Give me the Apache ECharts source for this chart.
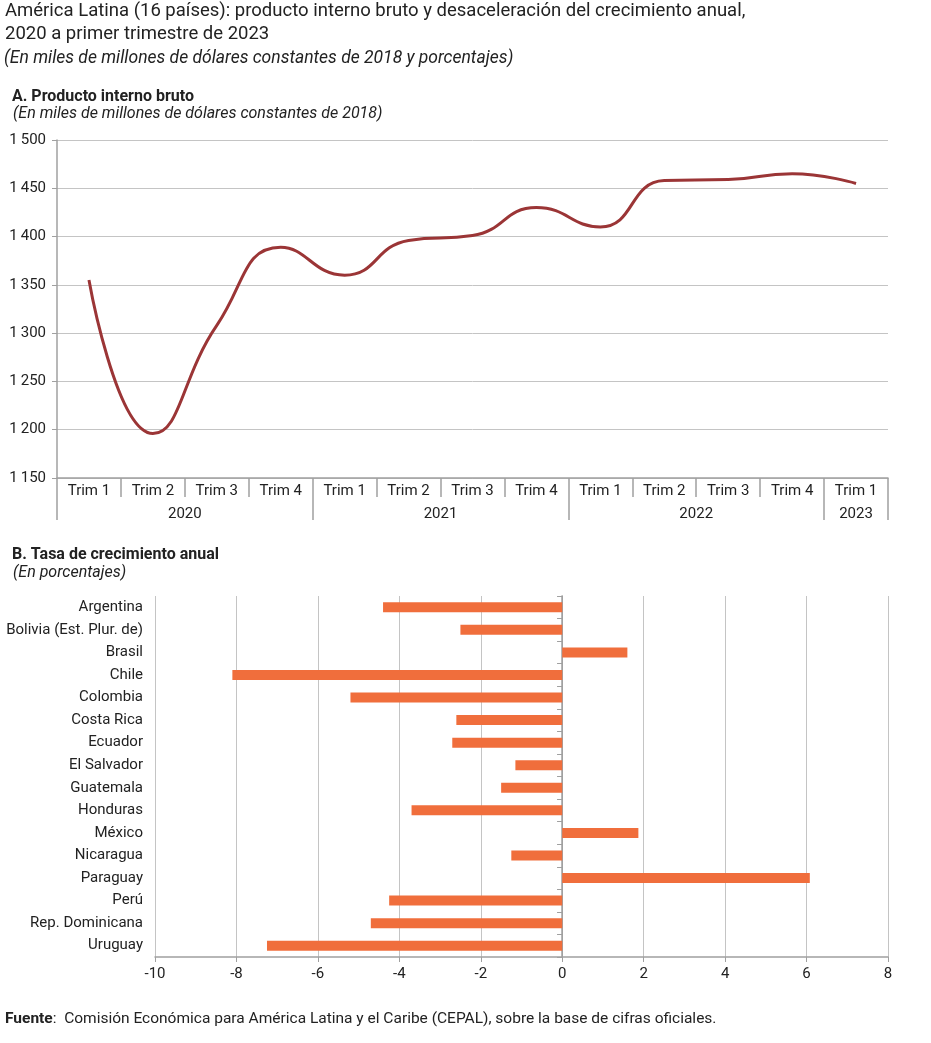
<!DOCTYPE html>
<html><head><meta charset="utf-8">
<script src="https://cdn.jsdelivr.net/npm/echarts@6/dist/echarts.min.js"></script>
<style>html,body{margin:0;padding:0;background:#fff}#c{width:931px;height:1043px}</style>
</head><body><div id="c"></div>
<script>
// ---- Data ----
const quarters = ['Trim 1','Trim 2','Trim 3','Trim 4','Trim 1','Trim 2','Trim 3','Trim 4','Trim 1','Trim 2','Trim 3','Trim 4','Trim 1'];
const years = ['2020','2021','2022','2023'];
const yearSpans = [4,4,4,1];
const gdp = [1355,1196,1308,1389,1360,1396,1401,1430,1410,1458,1459,1465,1455];
const countries = ['Argentina','Bolivia (Est. Plur. de)','Brasil','Chile','Colombia','Costa Rica','Ecuador','El Salvador','Guatemala','Honduras','México','Nicaragua','Paraguay','Perú','Rep. Dominicana','Uruguay'];
const growth = [-4.4,-2.5,1.6,-8.1,-5.2,-2.6,-2.7,-1.15,-1.5,-3.7,1.87,-1.25,6.08,-4.25,-4.7,-7.25];

// ---- Derived year positions ----
const yearBounds = [0];
yearSpans.forEach(s => yearBounds.push(yearBounds[yearBounds.length-1] + s));
const yearCenters = yearSpans.map((s,i) => yearBounds[i] + s/2);

const F = '"Roboto", sans-serif';
const txt = '#222';
const axisC = '#a0a0a0';
const gridC = '#c4c4c4';

const chart = echarts.init(document.getElementById('c'));
chart.setOption({
  animation: false,
  textStyle: {fontFamily: F},
  title: [
    {text: 'América Latina (16 países): producto interno bruto y desaceleración del crecimiento anual,\n2020 a primer trimestre de 2023', left: 5, top: 0, padding: 0,
     textStyle: {fontFamily: F, fontSize: 18.5, fontWeight: 'normal', color: txt, lineHeight: 23}},
    {text: '(En miles de millones de dólares constantes de 2018 y porcentajes)', left: 4, top: 50, padding: 0,
     textStyle: {fontFamily: F, fontSize: 17.5, fontWeight: 'normal', fontStyle: 'italic', color: txt}},
    {text: 'A. Producto interno bruto', left: 12, top: 89, padding: 0,
     textStyle: {fontFamily: F, fontSize: 16, fontWeight: 'bold', color: txt}},
    {text: '(En miles de millones de dólares constantes de 2018)', left: 13, top: 106, padding: 0,
     textStyle: {fontFamily: F, fontSize: 16, fontWeight: 'normal', fontStyle: 'italic', color: txt}},
    {text: 'B. Tasa de crecimiento anual', left: 12, top: 547, padding: 0,
     textStyle: {fontFamily: F, fontSize: 16, fontWeight: 'bold', color: txt}},
    {text: '(En porcentajes)', left: 13, top: 565, padding: 0,
     textStyle: {fontFamily: F, fontSize: 16, fontWeight: 'normal', fontStyle: 'italic', color: txt}},
    {text: '{b|Fuente}:  Comisión Económica para América Latina y el Caribe (CEPAL), sobre la base de cifras oficiales.', left: 5, top: 1011, padding: 0,
     textStyle: {fontFamily: F, fontSize: 15.5, fontWeight: 'normal', color: txt,
       rich: {b: {fontFamily: F, fontSize: 15.5, fontWeight: 'bold', color: txt}}}}
  ],
  grid: [
    {left: 57, right: 43, top: 140, bottom: 565, containLabel: false},
    {left: 155, right: 43, top: 596, bottom: 86, containLabel: false}
  ],
  xAxis: [
    {type: 'category', gridIndex: 0, data: quarters, boundaryGap: true, position: 'bottom',
     axisLine: {show: true, lineStyle: {color: axisC, width: 1.5}},
     axisTick: {show: true, interval: 0, length: 19, lineStyle: {color: axisC, width: 1.5}},
     axisLabel: {interval: 0, margin: 6, fontSize: 15, color: txt, fontFamily: F}},
    {type: 'value', gridIndex: 0, min: 0, max: quarters.length, position: 'bottom',
     axisLine: {show: false}, splitLine: {show: false},
     axisTick: {show: true, customValues: yearBounds, length: 42, lineStyle: {color: axisC, width: 1.5}},
     axisLabel: {customValues: yearCenters, margin: 29, fontSize: 15, color: txt, fontFamily: F,
       formatter: v => { const i = yearCenters.indexOf(v); return i >= 0 ? years[i] : ''; }}},
    {type: 'value', gridIndex: 1, min: -10, max: 8, interval: 2,
     axisLine: {show: true, lineStyle: {color: axisC, width: 1.5}},
     axisTick: {show: true, length: 5, lineStyle: {color: axisC}},
     axisLabel: {margin: 10, fontSize: 15, color: txt, fontFamily: F},
     splitLine: {show: true, lineStyle: {color: gridC, width: 1}}}
  ],
  yAxis: [
    {type: 'value', gridIndex: 0, min: 1150, max: 1500, interval: 50,
     axisLine: {show: true, lineStyle: {color: axisC, width: 1.5}},
     axisTick: {show: true, length: 5, lineStyle: {color: axisC}},
     axisLabel: {margin: 11, fontSize: 15, color: txt, fontFamily: F,
       formatter: v => String(v).replace(/(\d)(?=(\d{3})+$)/, '$1\u2009')},
     splitLine: {show: true, lineStyle: {color: gridC, width: 1}}},
    {type: 'category', gridIndex: 1, data: countries, inverse: true,
     axisLine: {show: true, lineStyle: {color: axisC, width: 1.5}},
     axisTick: {show: true, interval: 0, length: 5, lineStyle: {color: axisC}},
     axisLabel: {interval: 0, margin: 12, fontSize: 15, color: txt, fontFamily: F}},
    {type: 'category', gridIndex: 1, data: countries, inverse: true, position: 'left', offset: -407.2,
     axisLine: {show: true, lineStyle: {color: axisC, width: 1}},
     axisTick: {show: true, interval: 0, length: 5, lineStyle: {color: axisC}},
     axisLabel: {show: false}}
  ],
  series: [
    {type: 'line', xAxisIndex: 0, yAxisIndex: 0, data: gdp, smooth: 0.5, symbol: 'none',
     lineStyle: {color: '#9b3536', width: 3}},
    {type: 'bar', xAxisIndex: 2, yAxisIndex: 1, data: growth, barWidth: 10,
     itemStyle: {color: '#f06e3c'}}
  ]
});
</script></body></html>
